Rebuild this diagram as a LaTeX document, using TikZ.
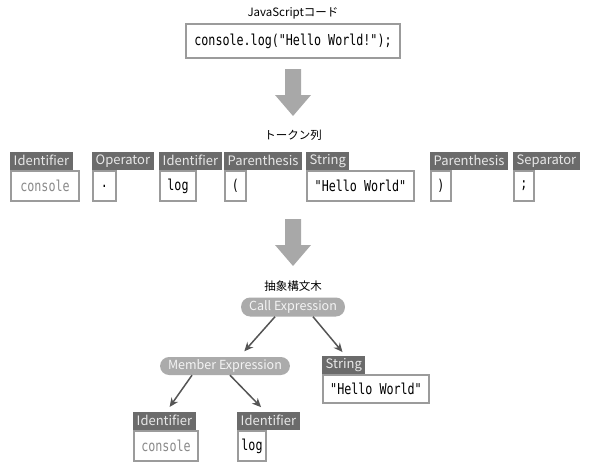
\documentclass[tikz,border=0pt]{standalone}
\usepackage{fontspec}
\setmainfont{Noto Sans CJK JP}
\newfontfamily\codefont[FakeStretch=0.78]{DejaVu Sans Mono}
\usepackage{tikz}
\usetikzlibrary{arrows.meta, positioning}
\definecolor{tagfill}{HTML}{6B6B6B}
\definecolor{tagtext}{HTML}{E8E8E8}
\definecolor{boxline}{HTML}{9B9B9B}
\definecolor{pillfill}{HTML}{ABABAB}
\definecolor{pilltext}{HTML}{F4F4F4}
\definecolor{bigarrowfill}{HTML}{A8A8A8}
\definecolor{edgecol}{HTML}{555555}
\definecolor{dimtext}{HTML}{8A8A8A}

\begin{document}
\begin{tikzpicture}[x=1pt, y=-1pt,
  tag/.style={fill=tagfill, text=tagtext, font=\fontsize{13}{13}\selectfont,
    inner xsep=3.5pt, inner ysep=0pt, minimum height=18pt, anchor=south west},
  val/.style={draw=boxline, line width=2pt, fill=white,
    font=\codefont\fontsize{15}{15}\selectfont,
    minimum height=30pt, inner xsep=2pt, anchor=north west},
  expr/.style={fill=pillfill, text=pilltext, rounded corners=9pt,
    minimum height=19pt, inner xsep=8pt, inner ysep=0pt,
    font=\fontsize{12.5}{12.5}\selectfont},
  caption/.style={font=\fontsize{11.5}{11.5}\selectfont},
  bigarrow/.style={fill=bigarrowfill},
  astedge/.style={draw=edgecol, line width=1.5pt, shorten >=2pt,
    -{Stealth[length=9pt, width=8pt]}}]
  \useasboundingbox (0,0) rectangle (594,471);

  \node[caption] (jscap) at (293,13) {JavaScriptコード};
  \node[draw=boxline, line width=2pt, minimum width=214pt, minimum height=34pt,
    font=\codefont\fontsize{15}{15}\selectfont] (code) at (293,41)
    {console.log("Hello World!");};

  \foreach \y in {69,219}
    \fill[bigarrow] (285,\y) -- (301,\y) -- (301,\y+26) -- (311,\y+26)
      -- (293,\y+47) -- (275,\y+26) -- (285,\y+26) -- cycle;

  \node[caption] (tokcap) at (293,135) {トークン列};
  \node[val, minimum width=68pt, text=dimtext] (v1) at (10,170) {console};
  \node[tag] (t1) at (v1.north west) {Identifier};
  \node[val, minimum width=23pt] (v2) at (92,170) {.};
  \node[tag] (t2) at (v2.north west) {Operator};
  \node[val, minimum width=36pt] (v3) at (159,170) {log};
  \node[tag] (t3) at (v3.north west) {Identifier};
  \node[val, minimum width=21pt] (v4) at (224,170) {(};
  \node[tag] (t4) at (v4.north west) {Parenthesis};
  \node[val, minimum width=107pt] (v5) at (306,170) {"Hello World"};
  \node[tag] (t5) at (v5.north west) {String};
  \node[val, minimum width=20pt] (v6) at (430,170) {)};
  \node[tag] (t6) at (v6.north west) {Parenthesis};
  \node[val, minimum width=20pt] (v7) at (513,170) {;};
  \node[tag] (t7) at (v7.north west) {Separator};

  \node[caption] (astcap) at (293,286) {抽象構文木};
  \node[expr] (call) at (293,307) {Call Expression};
  \node[expr, minimum height=18pt] (member) at (225,366) {Member Expression};
  \node[val, minimum width=106pt, minimum height=28pt] (strval) at (322,374) {"Hello World"};
  \node[tag] (strtag) at (strval.north west) {String};
  \node[val, minimum width=64pt, text=dimtext] (idval1) at (133,430) {console};
  \node[tag] (idtag1) at (idval1.north west) {Identifier};
  \node[val, minimum width=28pt] (idval2) at (237,430) {log};
  \node[tag] (idtag2) at (idval2.north west) {Identifier};

  \draw[astedge] ([xshift=-18pt]call.south) -- ([xshift=18pt, yshift=4pt]member.north);
  \draw[astedge] ([xshift=20pt]call.south) -- ([yshift=2pt]strtag.north);
  \draw[astedge] ([xshift=-33pt]member.south) -- ([xshift=4pt, yshift=3pt]idtag1.north);
  \draw[astedge] ([xshift=5pt]member.south) -- ([xshift=-6pt, yshift=3pt]idtag2.north);
\end{tikzpicture}
\end{document}
